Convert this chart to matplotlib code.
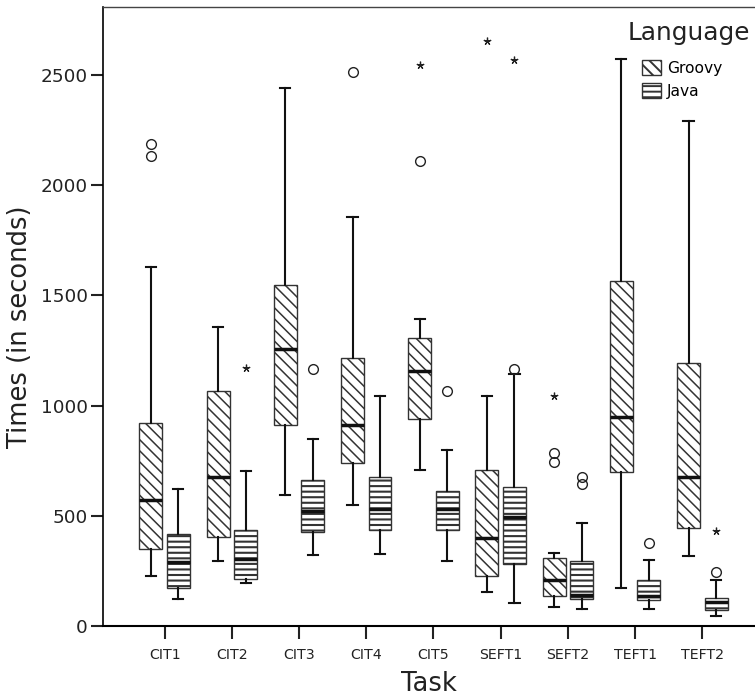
import matplotlib
matplotlib.use("Agg")
import matplotlib.pyplot as plt
import numpy as np

tasks = ["CIT1", "CIT2", "CIT3", "CIT4", "CIT5", "SEFT1", "SEFT2", "TEFT1", "TEFT2"]

# Groovy: whisker low, Q1, median, Q3, whisker high
groovy_lo = [227, 296, 594, 550, 706, 156, 88, 172, 316]
groovy_q1 = [349, 405, 911, 741, 941, 225, 136, 699, 446]
groovy_med = [570, 676, 1257, 911, 1158, 398, 209, 948, 675]
groovy_q3 = [920, 1068, 1546, 1216, 1308, 706, 307, 1567, 1192]
groovy_hi = [1627, 1358, 2440, 1857, 1393, 1045, 333, 2573, 2291]
groovy_circ = [[2187, 2134], [], [], [2514], [2110], [], [783, 746], [], []]
groovy_star = [[], [], [], [], [2545], [2654], [1045], [], []]

# Java
java_lo = [124, 195, 323, 325, 295, 104, 76, 79, 47]
java_q1 = [171, 215, 426, 434, 436, 283, 121, 118, 71]
java_med = [290, 303, 523, 529, 529, 493, 141, 136, 110]
java_q3 = [416, 434, 662, 676, 614, 629, 295, 209, 128]
java_hi = [623, 702, 848, 1042, 799, 1143, 467, 299, 210]
java_circ = [[], [], [1166], [], [1068], [1166], [677, 643], [375], [246]]
java_star = [[], [1171], [], [], [], [2568], [], [], [430]]

plt.rcParams["font.family"] = "DejaVu Sans"
plt.rcParams["hatch.linewidth"] = 1.4

fig = plt.figure(figsize=(7.55, 6.97), dpi=100)
ax = fig.add_axes([0.1364, 0.1019, 0.8636, 0.888])

x = np.arange(len(tasks))
off = 0.205
width = 0.34


def stats(lo, q1, med, q3, hi, circ):
    return [dict(whislo=lo[i], q1=q1[i], med=med[i], q3=q3[i], whishi=hi[i],
                 fliers=circ[i]) for i in range(len(lo))]


groups = [
    (stats(groovy_lo, groovy_q1, groovy_med, groovy_q3, groovy_hi, groovy_circ),
     groovy_star, x - off, "\\\\\\", "Groovy", 1.1),
    (stats(java_lo, java_q1, java_med, java_q3, java_hi, java_circ),
     java_star, x + off, "---", "Java", 1.5),
]

handles = []
for st, stars, pos, hatch, name, hlw in groups:
    bp = ax.bxp(st, positions=pos, widths=width, patch_artist=True,
                showfliers=True,
                boxprops=dict(facecolor="white", edgecolor="#333333", linewidth=1.0, hatch=hatch),
                medianprops=dict(color="#111111", linewidth=2.5),
                whiskerprops=dict(color="#111111", linewidth=1.5),
                capprops=dict(color="#111111", linewidth=1.5),
                capwidths=0.15,
                flierprops=dict(marker="o", markersize=7, markerfacecolor="none",
                                markeredgecolor="#222222", markeredgewidth=1.0))
    for b in bp["boxes"]:
        b.set_zorder(2)
        b._hatch_linewidth = hlw
    for p, s in zip(pos, stars):
        if s:
            ax.plot([p] * len(s), s, linestyle="none", marker=(5, 2, 0),
                    markersize=5.5, color="#222222", markeredgewidth=0.9)
    h = plt.Rectangle((0, 0), 1, 1, facecolor="white", edgecolor="#333333",
                      hatch=hatch, label=name)
    h._hatch_linewidth = hlw
    handles.append(h)

ax.set_xlim(-0.918, 8.784)
ax.set_ylim(0, 2808)
ax.set_xticks(x)
ax.set_xticklabels(tasks, fontsize=10.2, color="#222222")
ax.set_yticks([0, 500, 1000, 1500, 2000, 2500])
ax.tick_params(axis="y", labelsize=13.3, length=9, width=1.5, pad=2, colors="#222222")
ax.tick_params(axis="x", length=9, width=1.5, pad=7, colors="#222222")

ax.spines["right"].set_visible(False)
ax.spines["top"].set_color("#444444")
ax.spines["top"].set_linewidth(1.0)
ax.spines["left"].set_linewidth(1.2)
ax.spines["bottom"].set_linewidth(1.5)

ax.set_xlabel("Task", fontsize=18.5, color="#222222", labelpad=6)
ax.set_ylabel("Times (in seconds)", fontsize=18.5, color="#222222", labelpad=6)
ax.yaxis.set_label_coords(-0.108, 0.483)

# legend title placed on its own, entries indented under it
ax.text(0.805, 0.958, "Language", transform=ax.transAxes, fontsize=17.8,
        color="#222222", ha="left", va="center")
ax.legend(handles=handles, loc="upper left", bbox_to_anchor=(0.8267, 0.914),
          frameon=False, fontsize=11.2, handlelength=1.2, handleheight=1.1,
          handletextpad=0.4, borderaxespad=0, borderpad=0, labelspacing=0.45)

fig.savefig("out.png", dpi=100)
